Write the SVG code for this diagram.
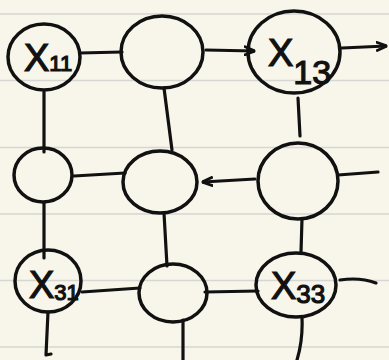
<svg xmlns="http://www.w3.org/2000/svg" width="389" height="360" viewBox="0 0 389 360">
<style>
.rule{stroke:#d6d6d2;stroke-width:1.5}
.n{fill:none;stroke:#111;stroke-width:3.5}
.c{fill:none;stroke:#111;stroke-width:3.2;stroke-linecap:round;stroke-linejoin:round}
.t{font-family:"Liberation Sans",Arial,sans-serif;fill:#111;stroke:#111;stroke-width:1.2;font-size:38px}
.s{font-size:22px}
</style>
<defs>
<marker id="ah" viewBox="0 0 10 10" refX="9" refY="5" markerWidth="3.5" markerHeight="3.5" orient="auto">
<path d="M0,1 L10,5 L0,9" fill="none" stroke="#111" stroke-width="2.5"/>
</marker>
</defs>
<rect width="389" height="360" fill="#f8f6ea"/>
<g id="paper">
<line class="rule" x1="0" y1="14" x2="389" y2="14"/>
<line class="rule" x1="0" y1="80.5" x2="389" y2="80.5"/>
<line class="rule" x1="0" y1="147.5" x2="389" y2="147.5"/>
<line class="rule" x1="0" y1="214" x2="389" y2="214"/>
<line class="rule" x1="0" y1="280.5" x2="389" y2="280.5"/>
<line class="rule" x1="0" y1="347" x2="389" y2="347"/>
</g>
<g id="connectors">
<path class="c" d="M80,53 L122,52"/>
<path class="c" d="M206,50 L254,51" marker-end="url(#ah)"/>
<path class="c" d="M342,48 L386,46" marker-end="url(#ah)"/>
<path class="c" d="M44,92 L44,152"/>
<path class="c" d="M164,88 L172,150"/>
<path class="c" d="M298,98 L300,136"/>
<path class="c" d="M74,176 L125,173"/>
<path class="c" d="M255,179 L203,182" marker-end="url(#ah)"/>
<path class="c" d="M338,175 L378,172"/>
<path class="c" d="M44,203 L44,258"/>
<path class="c" d="M164,213 L167,266"/>
<path class="c" d="M302,219 L301,252"/>
<path class="c" d="M82,292 L140,288"/>
<path class="c" d="M205,292 L258,291"/>
<path class="c" d="M340,280 Q360,277 376,283"/>
<path class="c" d="M48,312 L46,355 L51,354"/>
<path class="c" d="M183,320 L183,360"/>
<path class="c" d="M302,318 Q303,340 297,360"/>
</g>
<g id="x11">
<ellipse class="n" cx="44" cy="57" rx="36" ry="33"/>
<text class="t" x="24" y="71">X<tspan class="s" dy="0">11</tspan></text>
</g>
<g id="x12">
<ellipse class="n" cx="162" cy="52" rx="41" ry="36"/>
</g>
<g id="x13">
<ellipse class="n" cx="294" cy="52" rx="46" ry="41"/>
<text class="t" x="268" y="66">X<tspan class="s" style="font-size:34px" dy="18">13</tspan></text>
</g>
<g id="x21">
<ellipse class="n" cx="43" cy="175" rx="29" ry="27"/>
</g>
<g id="x22">
<ellipse class="n" cx="160" cy="182" rx="37" ry="31"/>
</g>
<g id="x23">
<ellipse class="n" cx="298" cy="181" rx="40" ry="38"/>
</g>
<g id="x31">
<ellipse class="n" cx="48" cy="281" rx="33" ry="31"/>
<text class="t" x="29" y="298">X<tspan class="s" dy="2">31</tspan></text>
</g>
<g id="x33">
<ellipse class="n" cx="296" cy="285" rx="40" ry="32"/>
<text class="t" x="271" y="299">X<tspan class="s" style="font-size:26px" dy="4">33</tspan></text>
</g>
<g id="x32">
<ellipse class="n" cx="173" cy="293" rx="34" ry="29"/>
</g>
</svg>
